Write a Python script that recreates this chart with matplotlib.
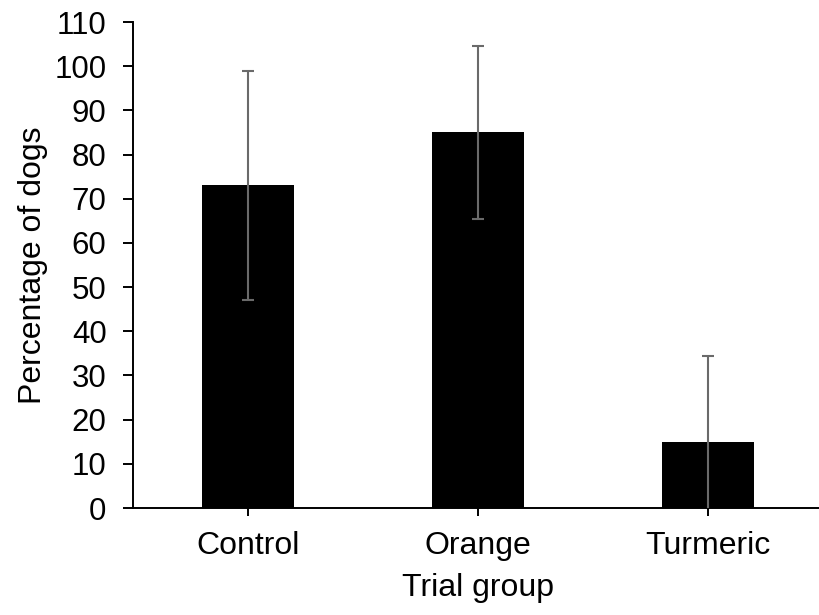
import matplotlib
matplotlib.use("Agg")
import matplotlib.pyplot as plt

groups = ["Control", "Orange", "Turmeric"]
percent = [73, 85, 15]
err = [26, 19.5, 19.5]

plt.rcParams["font.family"] = ["Liberation Sans", "DejaVu Sans"]

fig = plt.figure(figsize=(8.19, 6.15), dpi=100)
ax = fig.add_axes([133 / 819, 107 / 615, 690 / 819, 486 / 615])

x = range(len(groups))
ax.bar(x, percent, width=0.4, color="black", zorder=2)
ax.errorbar(x, percent, yerr=err, fmt="none", ecolor="#6a6a6a",
            elinewidth=1.5, capsize=4.3, capthick=1.5, zorder=3)

ax.set_xlim(-0.5, 2.5)
ax.set_ylim(0, 110)
ax.set_yticks(range(0, 111, 10))
ax.set_xticks(list(x))
ax.set_xticklabels(groups)

for side in ["top", "right"]:
    ax.spines[side].set_visible(False)
for side in ["left", "bottom"]:
    ax.spines[side].set_linewidth(1.4)

ax.tick_params(axis="y", labelsize=22.5, length=7, width=1.4, pad=12)
ax.tick_params(axis="x", labelsize=23, length=5.5, width=1.4, pad=11)

ax.set_xlabel("Trial group", fontsize=23, labelpad=9)
ax.set_ylabel("Percentage of dogs", fontsize=23, labelpad=5)

fig.savefig("out.png", dpi=100)
